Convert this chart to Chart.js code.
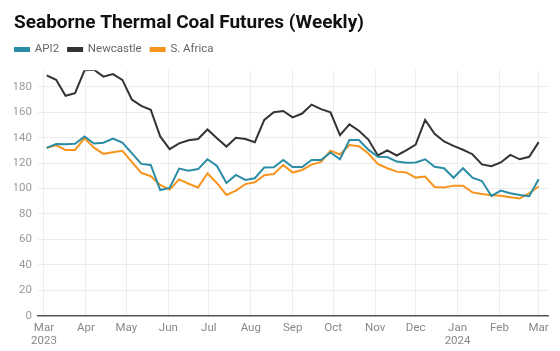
<!DOCTYPE html>
<html>
<head>
<meta charset="utf-8">
<script src="https://cdn.jsdelivr.net/npm/chart.js@4.4.1/dist/chart.umd.min.js"></script>
<style>
  body { margin: 0; background: #fff; }
  #wrap { width: 560px; height: 351px; }
</style>
</head>
<body>
<div id="wrap"><canvas id="coal"></canvas></div>
<script>
// weekly closes (Fridays), USD/t
const weeks = [
  '2023-03-03', '2023-03-10', '2023-03-17', '2023-03-24', '2023-03-31',
  '2023-04-07', '2023-04-14', '2023-04-21', '2023-04-28',
  '2023-05-05', '2023-05-12', '2023-05-19', '2023-05-26',
  '2023-06-02', '2023-06-09', '2023-06-16', '2023-06-23', '2023-06-30',
  '2023-07-07', '2023-07-14', '2023-07-21', '2023-07-28',
  '2023-08-04', '2023-08-11', '2023-08-18', '2023-08-25',
  '2023-09-01', '2023-09-08', '2023-09-15', '2023-09-22', '2023-09-29',
  '2023-10-06', '2023-10-13', '2023-10-20', '2023-10-27',
  '2023-11-03', '2023-11-10', '2023-11-17', '2023-11-24',
  '2023-12-01', '2023-12-08', '2023-12-15', '2023-12-22', '2023-12-29',
  '2024-01-05', '2024-01-12', '2024-01-19', '2024-01-26',
  '2024-02-02', '2024-02-09', '2024-02-16', '2024-02-23', '2024-03-01'
];

const api2 = [
  132, 135, 134.8, 135.2, 141, 135.4, 136, 139.3, 136.2, 127.8, 119.4, 118.6, 98.8,
  100.5, 115.7, 114, 115.3, 123, 117.8, 104.4, 110.7, 106.8, 108.1, 116.6, 116.7, 122.5,
  117, 117, 122.5, 122.5, 128.4, 123, 138.2, 138.2, 130.6, 125, 124.8, 121.2, 120.2,
  120.5, 123, 117.2, 116, 108.5, 116, 108.5, 105.9, 94.2, 98.4, 96.3, 95, 94, 107.4
];

const newcastle = [
  189, 185.5, 173, 175, 193, 193.5, 188, 190, 185.5, 170, 165, 162, 141,
  131, 135.5, 138, 139, 146.5, 139.5, 133, 140, 139, 136.5, 154, 160, 161,
  156, 159, 166, 162.5, 160, 142, 150.5, 145.5, 138.5, 126, 130, 126, 130,
  134.5, 154, 143, 137, 133.5, 130.5, 127, 119, 117.5, 120.5, 126.5, 123, 125, 136.5
];

const sAfrica = [
  132, 134, 130.4, 130.4, 139.5, 132.2, 127.3, 128.6, 129.7, 120.9, 112.3, 109.7, 102.8,
  99.2, 107.2, 103.8, 100.9, 112, 104.2, 95, 98.4, 103.5, 105, 110.5, 111.4, 118.5,
  112.6, 114.6, 118.8, 120.9, 129.8, 126.8, 134.2, 133.3, 127.5, 119.4, 116, 113.3, 112.7,
  108.6, 109.4, 101.2, 100.9, 102.3, 102.3, 97, 95.8, 94.7, 94.3, 93.2, 92.2, 96.3, 101.6
];

// x-axis ticks: first of each month
const monthTicks = [
  '2023-03-01', '2023-04-01', '2023-05-01', '2023-06-01', '2023-07-01', '2023-08-01', '2023-09-01',
  '2023-10-01', '2023-11-01', '2023-12-01', '2024-01-01', '2024-02-01', '2024-03-01'
];
const monthLabels = [
  ['Mar', '2023'], 'Apr', 'May', 'Jun', 'Jul', 'Aug', 'Sep', 'Oct', 'Nov', 'Dec', ['Jan', '2024'], 'Feb', 'Mar'
];
const yTicks = [0, 20, 40, 60, 80, 100, 120, 140, 160, 180];

// day numbers counted from 1 Mar 2023 so a linear axis can act as a time axis
const origin = Date.parse('2023-03-01');
const toDay = s => (Date.parse(s) - origin) / 86400000;
const tickDays = monthTicks.map(toDay);

function series(values) {
  return values.map((v, i) => ({ x: toDay(weeks[i]), y: v }));
}

const teal = '#2a8ca5';
const dark = '#333333';
const orange = '#f7941d';

// legend sits flush with the title and leaves a bit more room under it
const legendTweak = {
  id: 'legendTweak',
  beforeInit(chart) {
    const fit = chart.legend.fit;
    chart.legend.fit = function() {
      fit.call(this);
      this.height += 5;
    };
  },
  afterLayout(chart) {
    chart.legend.left -= 8;
  }
};

Chart.defaults.font.family = 'Roboto, "Noto Sans", sans-serif';

new Chart(document.getElementById('coal').getContext('2d'), {
  type: 'line',
  data: {
    datasets: [
      { label: 'API2', data: series(api2), borderColor: teal, backgroundColor: teal },
      { label: 'Newcastle', data: series(newcastle), borderColor: dark, backgroundColor: dark },
      { label: 'S. Africa', data: series(sAfrica), borderColor: orange, backgroundColor: orange }
    ]
  },
  plugins: [legendTweak],
  options: {
    responsive: true,
    maintainAspectRatio: false,
    animation: false,
    layout: { padding: { left: 14, right: 12, top: 10, bottom: -2 } },
    elements: {
      line: { borderWidth: 2, tension: 0 },
      point: { radius: 0 }
    },
    plugins: {
      tooltip: { enabled: false },
      title: {
        display: true,
        text: 'Seaborne Thermal Coal Futures (Weekly)',
        align: 'start',
        color: '#111',
        font: { size: 19, weight: 'bold' },
        padding: { top: 2, bottom: 0 }
      },
      legend: {
        align: 'start',
        labels: {
          boxWidth: 14,
          boxHeight: 3,
          padding: 9,
          color: '#666',
          font: { size: 11.5 }
        }
      }
    },
    scales: {
      x: {
        type: 'linear',
        min: -4.4,
        max: 372.9,
        afterBuildTicks: axis => { axis.ticks = tickDays.map(v => ({ value: v })); },
        // let the first label hang past the plot edge instead of squeezing the plot
        afterFit: axis => { axis.paddingLeft = 0; axis.paddingRight = 0; },
        ticks: {
          autoSkip: false,
          maxRotation: 0,
          padding: 6,
          color: '#888',
          font: { size: 11.5, lineHeight: 1.1 },
          callback: (v, i) => monthLabels[i]
        },
        grid: { color: '#ececec', drawTicks: false },
        border: { display: true, color: '#555', width: 1.5 }
      },
      y: {
        min: 0,
        max: 193,
        afterBuildTicks: axis => { axis.ticks = yTicks.map(v => ({ value: v })); },
        afterFit: axis => { axis.width = 24; },
        ticks: { padding: 6, color: '#999', font: { size: 11.5 } },
        grid: { color: '#ececec', drawTicks: false },
        border: { display: false }
      }
    }
  }
});
</script>
</body>
</html>
